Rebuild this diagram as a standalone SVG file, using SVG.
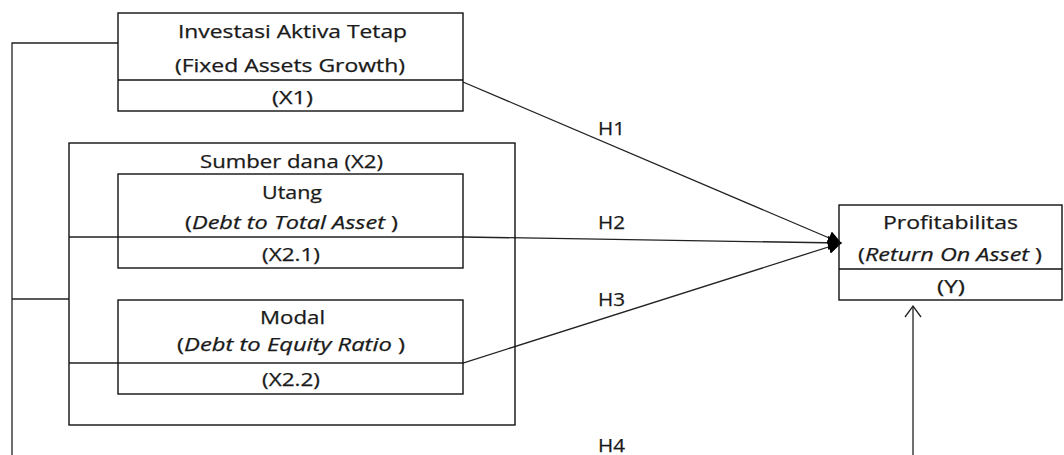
<svg xmlns="http://www.w3.org/2000/svg" width="1064" height="455" viewBox="0 0 1064 455">
<style>
.box{fill:none;stroke:#111;stroke-width:1.4}
.ln{fill:none;stroke:#222;stroke-width:1.3}
.t{font-family:"Open Sans","Liberation Sans",sans-serif;font-size:18px;fill:#1a1a1a;text-anchor:middle;stroke:#1a1a1a;stroke-width:0.25}
.i{font-style:italic}
</style>
<defs>
<marker id="fa" viewBox="0 0 14 14" refX="13" refY="7" markerWidth="14" markerHeight="14" markerUnits="userSpaceOnUse" orient="auto">
<path d="M0,0 L14,7 L0,14 z" fill="#000"/>
</marker>
</defs>
<rect width="1064" height="455" fill="#fff"/>
<g id="connectors">
<polyline class="ln" points="118,43 12,43 12,455"/>
<line class="ln" x1="12" y1="299" x2="69" y2="299"/>
<line class="ln" x1="463" y1="82" x2="841" y2="243" marker-end="url(#fa)"/>
<polyline class="ln" points="69,237 463,237 841,243" marker-end="url(#fa)"/>
<polyline class="ln" points="69,363 463,363 841,243" marker-end="url(#fa)"/>
<line class="ln" x1="913" y1="455" x2="913" y2="306"/>
<polyline class="ln" points="905,317 913,306 921,317"/>
<text class="t" x="611.5" y="135" textLength="27" lengthAdjust="spacingAndGlyphs">H1</text>
<text class="t" x="611.5" y="229" textLength="27" lengthAdjust="spacingAndGlyphs">H2</text>
<text class="t" x="611.5" y="306" textLength="27" lengthAdjust="spacingAndGlyphs">H3</text>
<text class="t" x="611.5" y="452" textLength="27" lengthAdjust="spacingAndGlyphs">H4</text>
</g>
<g id="x1">
<rect class="box" x="118" y="13" width="345" height="98"/>
<line class="box" x1="118" y1="80" x2="463" y2="80"/>
<text class="t" x="292.5" y="38" textLength="229" lengthAdjust="spacingAndGlyphs">Investasi Aktiva Tetap</text>
<text class="t" x="290" y="72" textLength="230" lengthAdjust="spacingAndGlyphs">(Fixed Assets Growth)</text>
<text class="t" x="292.5" y="104" textLength="41" lengthAdjust="spacingAndGlyphs">(X1)</text>
</g>
<g id="x2">
<rect class="box" x="69" y="143" width="446" height="282"/>
<text class="t" x="291.5" y="168" textLength="183" lengthAdjust="spacingAndGlyphs">Sumber dana (X2)</text>
</g>
<g id="x2-1">
<rect class="box" x="118" y="174" width="345" height="94"/>
<text class="t" x="292" y="199" textLength="60" lengthAdjust="spacingAndGlyphs">Utang</text>
<text class="t" x="291.5" y="229" textLength="213" lengthAdjust="spacingAndGlyphs">(<tspan class="i">Debt to Total Asset</tspan> )</text>
<text class="t" x="291" y="261" textLength="58" lengthAdjust="spacingAndGlyphs">(X2.1)</text>
</g>
<g id="x2-2">
<rect class="box" x="118" y="300" width="345" height="94"/>
<text class="t" x="292.5" y="324" textLength="65" lengthAdjust="spacingAndGlyphs">Modal</text>
<text class="t" x="291" y="351" textLength="228" lengthAdjust="spacingAndGlyphs">(<tspan class="i">Debt to Equity Ratio</tspan>  )</text>
<text class="t" x="291" y="386" textLength="58" lengthAdjust="spacingAndGlyphs">(X2.2)</text>
</g>
<g id="y">
<rect class="box" x="839" y="205" width="223" height="95"/>
<line class="box" x1="839" y1="269" x2="1062" y2="269"/>
<text class="t" x="950.5" y="229" textLength="135" lengthAdjust="spacingAndGlyphs">Profitabilitas</text>
<text class="t" x="950" y="261" textLength="184" lengthAdjust="spacingAndGlyphs">(<tspan class="i">Return On Asset</tspan> )</text>
<text class="t" x="951" y="293" textLength="28" lengthAdjust="spacingAndGlyphs">(Y)</text>
</g>
</svg>
